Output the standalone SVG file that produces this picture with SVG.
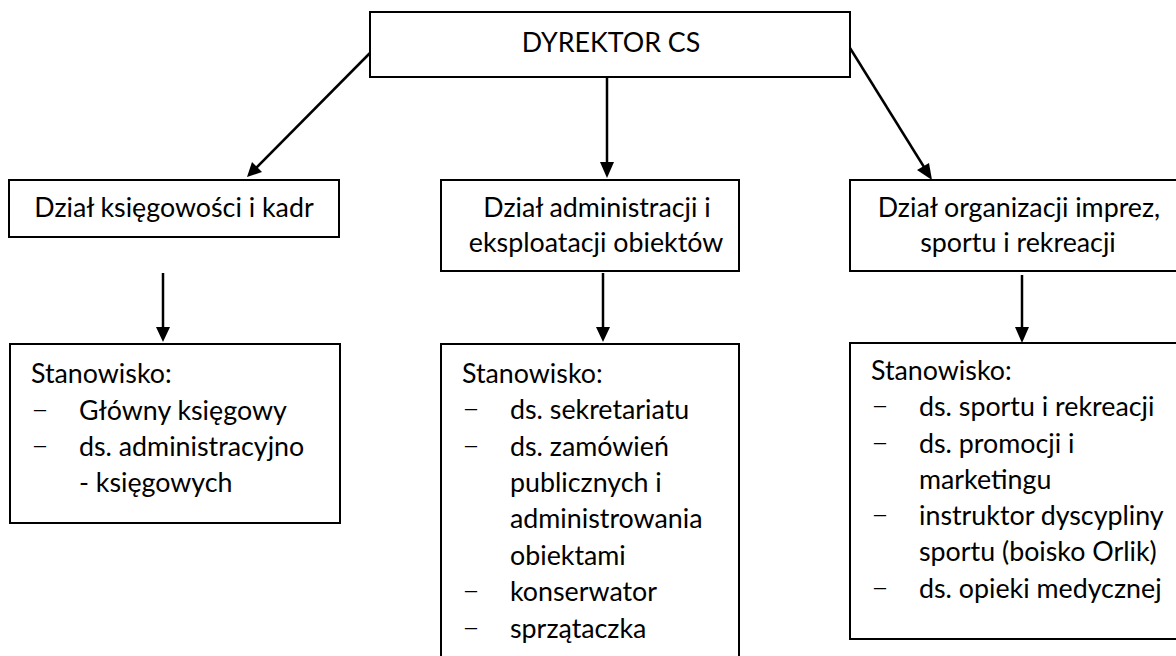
<svg xmlns="http://www.w3.org/2000/svg" width="1176" height="656" viewBox="0 0 1176 656">
<style>
.box{fill:#fff;stroke:#000;stroke-width:2}
.t{font-family:Lato,"Open Sans","Liberation Sans",sans-serif;font-size:26.8px;fill:#000}
.d{font-family:Lato,"Open Sans","Liberation Sans",sans-serif;font-size:31px;font-weight:300;fill:#000}
.c{text-anchor:middle}
.ln{stroke:#000;stroke-width:2.5;fill:none}
.hd{fill:#000}
</style>
<g id="connectors">
<line class="ln" x1="370" y1="53" x2="254" y2="170"/>
<path class="hd" d="M247,177 L252,162 L262,172 Z"/>
<line class="ln" x1="607" y1="77" x2="607" y2="163"/>
<path class="hd" d="M600,162 L614,162 L607,178 Z"/>
<line class="ln" x1="850" y1="48" x2="924" y2="167"/>
<path class="hd" d="M932,180 L917,170 L929,163 Z"/>
<line class="ln" x1="163" y1="273" x2="163" y2="328"/>
<path class="hd" d="M156,327 L170,327 L163,342 Z"/>
<line class="ln" x1="603" y1="273" x2="603" y2="328"/>
<path class="hd" d="M596,327 L610,327 L603,342 Z"/>
<line class="ln" x1="1022" y1="275" x2="1022" y2="328"/>
<path class="hd" d="M1015,327 L1029,327 L1022,343 Z"/>
</g>
<g id="dyrektor">
<rect class="box" x="370" y="12" width="480" height="65"/>
<text class="t c" x="611" y="52">DYREKTOR CS</text>
</g>
<g id="dzial-ksiegowosci">
<rect class="box" x="9" y="180" width="330" height="57"/>
<text class="t c" x="174" y="217">Dział księgowości i kadr</text>
</g>
<g id="dzial-administracji">
<rect class="box" x="441" y="180" width="298" height="91"/>
<text class="t c" x="597" y="217">Dział administracji i</text>
<text class="t c" x="596" y="252">eksploatacji obiektów</text>
</g>
<g id="dzial-organizacji">
<rect class="box" x="850" y="180" width="340" height="91"/>
<text class="t c" x="1019" y="217">Dział organizacji imprez,</text>
<text class="t c" x="1018" y="252">sportu i rekreacji</text>
</g>
<g id="stanowiska-ksiegowosci">
<rect class="box" x="10" y="344" width="330" height="179"/>
<text class="t" x="31" y="383">Stanowisko:</text>
<text class="d" x="31" y="420">–</text><text class="t" x="79" y="420">Główny księgowy</text>
<text class="d" x="31" y="456">–</text><text class="t" x="79" y="456">ds. administracyjno</text>
<text class="t" x="79" y="492">- księgowych</text>
</g>
<g id="stanowiska-administracji">
<rect class="box" x="441" y="344" width="298" height="330"/>
<text class="t" x="462" y="383">Stanowisko:</text>
<text class="d" x="462" y="419">–</text><text class="t" x="510" y="419">ds. sekretariatu</text>
<text class="d" x="462" y="456">–</text><text class="t" x="510" y="456">ds. zamówień</text>
<text class="t" x="510" y="492">publicznych i</text>
<text class="t" x="510" y="528">administrowania</text>
<text class="t" x="510" y="565">obiektami</text>
<text class="d" x="462" y="601">–</text><text class="t" x="510" y="601">konserwator</text>
<text class="d" x="462" y="638">–</text><text class="t" x="510" y="638">sprzątaczka</text>
</g>
<g id="stanowiska-organizacji">
<rect class="box" x="850" y="343" width="340" height="296"/>
<text class="t" x="871" y="380">Stanowisko:</text>
<text class="d" x="871" y="416">–</text><text class="t" x="919" y="416">ds. sportu i rekreacji</text>
<text class="d" x="871" y="453">–</text><text class="t" x="919" y="453">ds. promocji i</text>
<text class="t" x="919" y="489">marketingu</text>
<text class="d" x="871" y="525">–</text><text class="t" x="919" y="525">instruktor dyscypliny</text>
<text class="t" x="919" y="561">sportu (boisko Orlik)</text>
<text class="d" x="871" y="598">–</text><text class="t" x="919" y="598">ds. opieki medycznej</text>
</g>
</svg>
